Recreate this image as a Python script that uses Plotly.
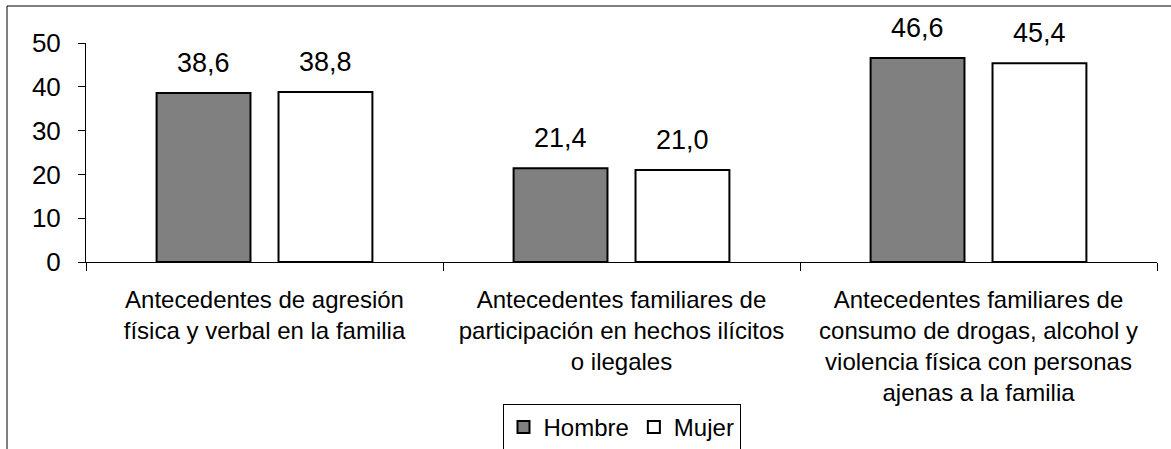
import plotly.graph_objects as go

categories = [
    "Antecedentes de agresión<br>física y verbal en la familia",
    "Antecedentes familiares de<br>participación en hechos ilícitos<br>o ilegales",
    "Antecedentes familiares de<br>consumo de drogas, alcohol y<br>violencia física con personas<br>ajenas a la familia",
]
hombre = [38.6, 21.4, 46.6]
mujer = [38.8, 21.0, 45.4]
y_ticks = [0, 10, 20, 30, 40, 50]

FONT = "Liberation Sans, Arial, sans-serif"

def fmt(v):
    return f"{v:.1f}".replace(".", ",")

fig = go.Figure()
fig.add_trace(go.Bar(
    name="Hombre", x=categories, y=hombre,
    marker=dict(color="#808080", line=dict(color="black", width=2)),
    cliponaxis=False,
))
fig.add_trace(go.Bar(
    name="Mujer", x=categories, y=mujer,
    marker=dict(color="white", line=dict(color="black", width=2)),
    cliponaxis=False,
))

annotations = []
for series, shift in ((hombre, -61), (mujer, 61)):
    for cat, v in zip(categories, series):
        annotations.append(dict(
            x=cat, y=v, xref="x", yref="y", text=fmt(v), showarrow=False,
            xshift=shift, yshift=13, yanchor="bottom",
            font=dict(family=FONT, size=27, color="black"),
        ))

W, H = 1171, 449
L, R, T, B = 86, 14, 43, 187
pw, ph = W - L - R, H - T - B

def px_x(x):
    return (x - L) / pw

def px_y(y):
    return (H - B - y) / ph

fig.update_layout(
    width=W, height=H,
    margin=dict(l=L, r=R, t=T, b=B, autoexpand=False),
    paper_bgcolor="white", plot_bgcolor="white",
    font=dict(family=FONT, size=24, color="black"),
    barmode="group", bargap=0.317, bargroupgap=0.23,
    annotations=annotations,
    legend=dict(
        orientation="h", x=0.5, xanchor="center",
        y=px_y(404), yanchor="top",
        bordercolor="black", borderwidth=1,
        font=dict(family=FONT, size=24),
        itemwidth=30, tracegroupgap=0,
    ),
    showlegend=True,
    shapes=[
        dict(type="line", xref="paper", yref="paper",
             x0=px_x(7), x1=px_x(W + 5), y0=px_y(6), y1=px_y(6),
             line=dict(color="black", width=1)),
        dict(type="line", xref="paper", yref="paper",
             x0=px_x(7), x1=px_x(7), y0=px_y(6), y1=px_y(H + 5),
             line=dict(color="black", width=1)),
    ],
)
fig.update_xaxes(
    type="category", showline=True, linecolor="black", linewidth=1,
    ticks="outside", tickson="boundaries", ticklen=8, tickcolor="black",
    showgrid=False, tickfont=dict(family=FONT, size=24),
    ticklabelstandoff=16,
)
fig.update_yaxes(
    range=[0, 50], tickvals=y_ticks, ticktext=[str(v) for v in y_ticks],
    showline=True, linecolor="black", linewidth=1,
    ticks="outside", ticklen=7, tickcolor="black",
    showgrid=False, zeroline=False, ticklabelstandoff=12,
    tickfont=dict(family=FONT, size=26),
)
fig.write_html(
    "out.html",
    config={"displayModeBar": False},
    post_script="document.body.style.margin='0';document.body.style.overflow='hidden';",
)
